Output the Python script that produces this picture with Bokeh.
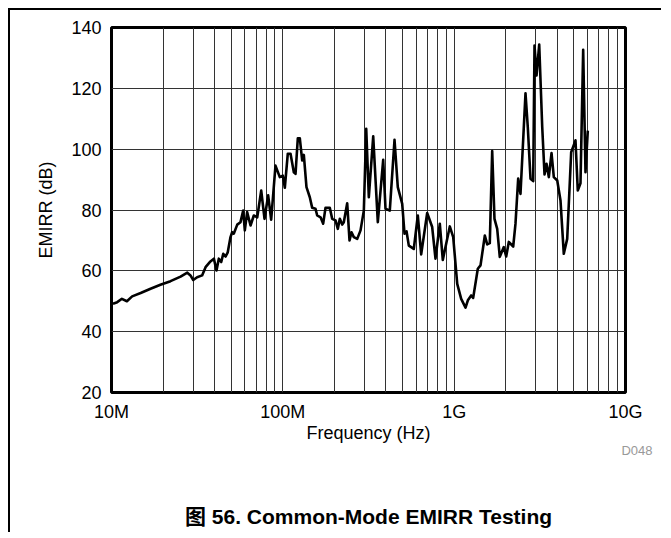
from bokeh.plotting import figure
from bokeh.models import Range1d, FixedTicker, Title, LogAxis
from bokeh.embed import file_html
from bokeh.resources import INLINE

# ---- data ----
freq_mhz = [10.2, 10.8, 11.5, 12.3, 13.2, 14.8, 16.9, 19.3, 22.1, 25.3, 27.7, 28.9, 30.0, 31.6,
            33.8, 35.4, 37.8, 39.6, 41.0, 42.3, 43.7, 44.9, 46.3, 47.7, 49.5, 50.6, 51.7, 54.2,
            56.6, 58.7, 60.0, 61.9, 64.8, 67.7, 70.9, 74.8, 78.2, 82.1, 85.5, 90.6, 96.0, 100.0,
            102.7, 106.9, 110.9, 115.9, 118.6, 122.3, 125.6, 129.7, 132.6, 137.4, 143.7, 148.4,
            155.1, 158.7, 166.0, 172.0, 177.4, 188.0, 194.1, 203.0, 209.4, 215.1, 222.1, 226.9,
            237.5, 245.0, 251.7, 259.6, 271.8, 284.1, 297.0, 306.7, 317.6, 336.9, 358.4, 385.3,
            397.4, 421.0, 448.6, 468.8, 497.5, 513.1, 527.1, 543.6, 581.3, 613.5, 641.9, 695.8,
            744.2, 778.0, 824.4, 858.3, 943.0, 987.2, 1042, 1099, 1165, 1202, 1257, 1291, 1374,
            1425, 1510, 1559, 1614, 1667, 1719, 1783, 1846, 1948, 2012, 2084, 2211, 2280, 2364,
            2438, 2608, 2690, 2790, 2893, 2944, 3024, 3136, 3266, 3368, 3460, 3568, 3700, 3816,
            3996, 4175, 4364, 4568, 4819, 5106, 5266, 5461, 5662, 5841, 6025]
emirr_db = [49.2, 49.7, 50.8, 50.0, 51.6, 52.7, 54.1, 55.4, 56.6, 58.1, 59.4, 58.5, 57.0, 57.9,
            58.5, 61.2, 63.1, 64.0, 60.1, 64.0, 62.9, 65.6, 64.7, 66.1, 71.1, 72.7, 72.2, 75.2,
            76.0, 79.8, 73.3, 79.3, 74.9, 78.2, 77.6, 86.4, 77.1, 84.8, 76.8, 94.6, 90.8, 91.3,
            87.3, 98.5, 98.5, 92.4, 91.9, 103.6, 103.6, 96.3, 98.1, 87.5, 84.2, 80.7,
            80.4, 78.2, 77.6, 75.5, 80.7, 80.7, 77.1, 76.6, 73.8, 77.1, 75.2, 76.0,
            82.2, 70.0, 72.7, 71.1, 70.5, 73.3, 79.8, 106.7, 84.2, 104.2, 76.0, 96.5,
            80.4, 79.8, 103.1, 87.5, 82.0, 72.2, 73.0, 68.3, 67.2, 78.2, 65.4, 79.0,
            74.4, 64.0, 75.5, 63.6, 74.6, 71.1, 55.7, 50.8, 47.9, 50.3, 51.9, 51.1, 60.7,
            61.8, 71.6, 68.7, 69.1, 99.4, 77.1, 73.8, 64.6, 67.8, 64.7, 69.5, 68.0, 75.5, 90.3,
            85.3, 118.4, 107.2, 90.3, 89.5, 134.1, 124.2, 134.4, 107.2, 91.7, 95.2, 90.8, 98.7, 90.8,
            89.7, 83.1, 65.6, 70.5, 99.0, 102.9, 86.4, 88.8, 132.7, 92.4, 106.1]

x_major = [1e7, 1e8, 1e9, 1e10]
x_labels = ["10M", "100M", "1G", "10G"]
y_ticks = [20, 40, 60, 80, 100, 120, 140]
caption = "图 56. Common-Mode EMIRR Testing"
x_title = "Frequency (Hz)"
y_title = "EMIRR (dB)"
code = "D048"

FONT = "Liberation Sans"
W, H = 653, 524

p = figure(width=W, height=H, x_axis_type="log",
           x_range=Range1d(1e7, 1e10), y_range=Range1d(20, 140),
           output_backend="svg", toolbar_location=None,
           min_border_left=101, min_border_right=38, min_border_top=17,
           min_border_bottom=H - 382,
           background_fill_color="white", border_fill_color="white",
           styles={"border-top": "2px solid black", "border-left": "2px solid black",
                   "margin-top": "8px", "margin-left": "8px"})

p.outline_line_color = "black"
p.outline_line_width = 3

# grid
grid_x = []
for dec in [1e7, 1e8, 1e9]:
    for m in range(1, 10):
        grid_x.append(m * dec)
grid_x.append(1e10)
p.xgrid.ticker = FixedTicker(ticks=grid_x)
p.ygrid.ticker = FixedTicker(ticks=y_ticks)
for g in (p.xgrid, p.ygrid):
    g.grid_line_color = "#333333"
    g.grid_line_width = 1
    g.grid_line_alpha = 1.0

# axes
p.xaxis.ticker = FixedTicker(ticks=x_major)
p.xaxis.major_label_overrides = {t: l for t, l in zip(x_major, x_labels)}
p.yaxis.ticker = FixedTicker(ticks=y_ticks)
for ax in (p.xaxis[0], p.yaxis[0]):
    ax.axis_line_color = None
    ax.major_tick_line_color = None
    ax.minor_tick_line_color = None
    ax.major_tick_out = 0
    ax.major_tick_in = 0
    ax.minor_tick_out = 0
    ax.minor_tick_in = 0
    ax.major_label_text_font = FONT
    ax.major_label_text_font_size = "18px"
    ax.major_label_text_color = "black"
    ax.axis_label_text_font = FONT
    ax.axis_label_text_font_size = "18px"
    ax.axis_label_text_font_style = "normal"
    ax.axis_label_text_color = "black"
p.xaxis.axis_label = x_title
p.yaxis.axis_label = y_title
p.xaxis.major_label_standoff = 9
p.xaxis.axis_label_standoff = -2
p.yaxis.major_label_standoff = 10
p.yaxis.axis_label_standoff = 12

# curve
p.line([f * 1e6 for f in freq_mhz], emirr_db, line_color="black", line_width=2.6,
       line_join="round")

# figure code, right of the frame
p.add_layout(Title(text=code, align="right", offset=-27, standoff=-10,
                   text_font=FONT, text_font_size="13px", text_font_style="normal",
                   text_color="#999999"), "below")

# caption, as the label of a tick-less axis at the bottom
cap_axis = LogAxis(ticker=FixedTicker(ticks=[]), axis_label=caption,
                   axis_line_color=None, major_tick_line_color=None,
                   minor_tick_line_color=None, major_tick_out=0, minor_tick_out=0,
                   axis_label_standoff=52,
                   axis_label_text_font="Liberation Sans, Noto Sans CJK SC",
                   axis_label_text_font_size="21px", axis_label_text_font_style="bold",
                   axis_label_text_color="black")
p.add_layout(cap_axis, "below")

open("out.html", "w").write(file_html(p, INLINE))
